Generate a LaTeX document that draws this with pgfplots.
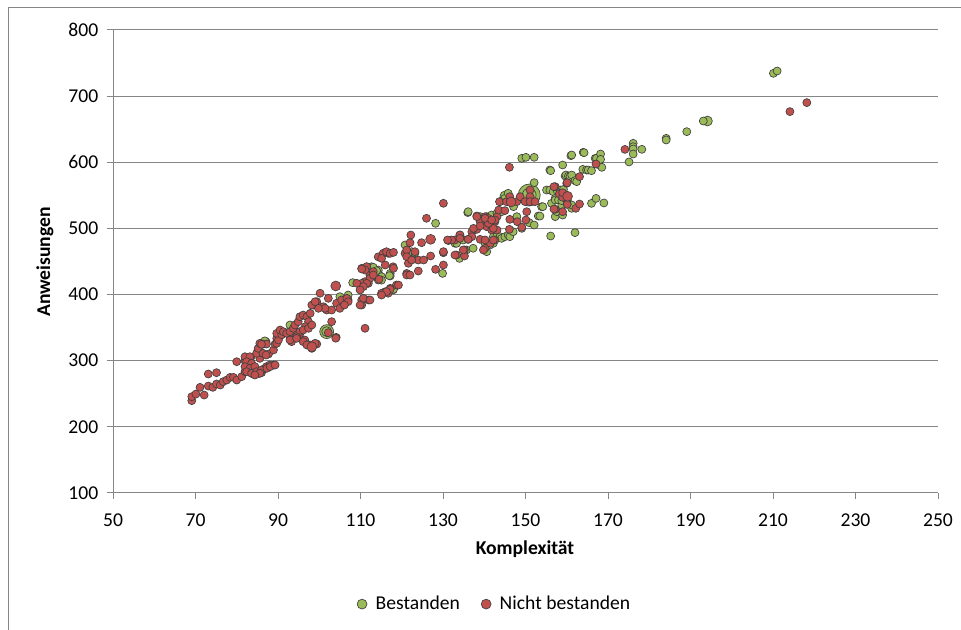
\documentclass[border=0pt]{standalone}
\usepackage{pgfplots}
\pgfplotsset{compat=1.18}
\usepackage{pgfplotstable}
\usepackage{fontspec}
\setmainfont{Carlito}
\definecolor{bgreen}{HTML}{9BBB59}
\definecolor{bred}{HTML}{C0504D}
\definecolor{gridgray}{HTML}{868686}
\definecolor{edge}{HTML}{404040}

\pgfplotstableread{
x y
87.1 328.8
86.8 330
92.9 354
97.4 354
97.6 354
105 396.8
107 399.3
108.1 418
112.7 442
114.3 437
115.1 427
117.2 432
117.9 407
115.1 421.8
113.1 441.2
117.2 428.1
113.9 436.1
114.3 422
117 428.5
118 407.9
120.8 474.9
122.4 464.8
123.2 463
128.2 507.7
129.9 432
132.9 477.5
133.3 477.5
134 454.7
134.9 482.5
135.7 467.4
136 524
136.1 525.3
137.3 470
139 517.8
140.2 477.5
140.6 464.8
140.6 517.8
141 476.5
141.4 475
141.8 520.3
142.2 477.5
142.2 487.5
143 487.5
143.1 522.8
143.8 487.5
143.8 540.5
144.2 525.3
144.2 485
145 487.5
145 545.5
145.8 553.1
145.8 490
146.2 487.5
147 495
147.1 532.9
147.9 517.8
149.1 500.1
149.1 606
150.1 607.5
150.9 508.7
152.1 607.5
152.1 569.2
152.1 505.2
153.1 518.8
153.5 518.7
153.9 532.8
154.2 532.9
155.1 558.1
155.9 588.3
155.9 558
156.1 587.3
156.1 488.5
156.3 537.9
156.7 555.6
157.2 545.5
157.2 543
157.2 517.8
157.6 525.3
157.6 558
158 543
158.4 558
158.8 535.4
158.8 542
159 595.9
159 520.2
159.2 559
159.6 579.2
159.8 580.8
160 543
160.4 579.2
160.4 537.9
160.8 578.3
161 610
161.2 611
161.2 530.4
161.2 580.7
161.2 535.4
162 572.2
162 493.6
162.4 570.7
163.9 589.3
164 615
164.2 614.5
164.8 588.3
165.2 588.3
166 587.3
166 537.9
166.9 605.9
167.1 545.4
167.2 606
167.9 595.9
168.2 612.5
168.2 604.4
168.5 592.4
169 538.5
175.1 600.5
176.1 628.7
176.1 623.6
176.1 620.1
176.1 612.5
178.2 619.6
184.1 636.2
184.1 633.7
189.1 646.3
193.1 662.4
210.1 734.5
211 738
}\greendata

\pgfplotstableread{
x y
69.1 239.6
69.1 245.6
70.1 249.6
71.1 259.7
72.1 248.1
73.1 279.9
75.1 281.9
73.1 261.7
74.2 259.7
75.1 264.8
76 263.2
76.7 268.3
77.6 270.8
78.4 274.8
79.2 274.8
80 270.8
80 298.5
81.2 275.8
82 283.4
82 300
82.8 292
83.4 305
84 279.9
84.8 279.9
85.5 280.9
86 281.9
86.4 286.9
87.2 291
88 293.5
89 293.5
85.6 303.6
86 312.1
85.2 317.2
86.4 325.2
87.2 325.2
87.7 310.1
88.9 316.2
89.3 325.2
89.7 333.8
90.5 337.3
91.3 342.4
92.9 336.3
93.3 328.8
93.7 342.4
95.3 340.4
96.5 331.3
97.4 323.7
98.2 321.2
99.4 325.2
102.2 342.4
104.1 335.3
82 306
83.2 306
82.4 298.5
83.6 296
82 291
83.2 288.5
84.4 291
82.4 283.4
83.6 281
84.8 283.4
86 286
87.3 288.5
88.1 291
89.3 293.5
85.6 281
84.4 278.4
84.8 311
85.2 318.7
85.6 326.3
86 324.8
86.4 311
87.1 308.6
89.7 326.3
90.1 331.3
89.7 341.4
90.9 339.4
90.5 346.4
91.3 343.9
92.1 341.4
92.9 343.9
93.7 349
94.1 354
94.9 359
95.3 366.5
96.1 369
97 366.5
97.4 359
96.6 351.4
95.3 343.9
94.5 336.3
92.9 331.3
94.5 333.8
96.1 346.4
97.4 349
98.2 354
97.8 323.8
99 326.3
96.1 328.8
97 323.8
98.2 318.7
98.6 384
99.4 389.2
100.2 381.6
101.8 376.6
101 381.6
103 359
104 334
111.1 349
100.2 402
102.2 394.3
104.2 386.8
105.4 391.8
107 391.8
105 379.2
103 376.6
101.4 379.2
99.8 379.2
98.2 384.2
99 389.2
97.8 371.6
110.3 439.7
111.5 442.2
112.3 429.6
111.9 417
111.1 419.5
110.3 417
109.1 417
110.3 391.8
111.9 391.8
110.3 384.2
114.3 457
115.5 462.4
116.7 462.4
117.9 442
118.7 414.4
117.2 409.4
116 404.3
115.1 402
116.7 402
121.2 432
121.6 447.3
120.8 462.4
130.1 538
126 515.3
122.2 490
122 478.4
121.2 467.4
121.2 457.2
123.2 464.8
124.8 478.4
124 452.2
122.4 452.2
121.2 429.6
122 429.6
124 435.6
127 458.3
128.2 438.1
130.1 463.3
130.1 444.7
125.3 452.2
131.3 481.7
132.9 482.5
134.1 490
135.2 467.4
135.2 458.3
133.3 459.8
136.1 483.5
138.2 518.8
139 510.2
140.2 517.7
141 515.2
141.5 507.7
142.6 510.2
143.1 517.7
143.5 527.8
140.6 502.6
141.8 497.6
143.1 497.6
137.8 498.6
137 495
139 483.5
140.2 470
141.5 477.5
142.6 482.5
143.7 540.4
116.3 464.8
117.2 462.3
118 463.8
115.1 454.7
116 444.7
118 439.7
113.1 434.6
112.3 424.6
111.1 437.1
110.3 438.6
111.5 417
110.7 412
109.9 406.9
113.1 429.6
114.5 423.1
117.2 407.9
116.3 404.3
115.1 399.3
119.2 414.4
106.7 394.3
107 389.2
110.7 394.3
112.3 391.8
106.1 384.2
109.9 384.2
157.2 563.1
158.2 552
160 568.2
159 547
160.1 536.9
157.2 528.9
159 525.3
162.2 530.4
163.1 536.9
163.1 578.3
167.1 597.4
146.1 592.4
145.4 540.5
145 526.9
146.2 548
147.9 540.5
148.7 548
149.9 540.5
151.1 558.1
151.1 548
151.1 540.5
152.3 540.5
150.3 525.3
150.1 512.7
148 510.2
149.1 501.7
146.2 513.7
146.1 498.6
142.6 512.7
142.2 500.1
141 507.7
140.2 515.2
138.2 517.8
138.2 498.6
137.4 500.1
139 503.7
137 487.5
136.1 483.5
134.1 490.1
134.1 485
132.1 482.5
131.1 482.5
130.1 464.9
132.9 459.8
134.9 467.4
140.2 482.5
139.8 467.4
142.2 482.5
141.8 512.7
174.1 619.5
160.1 569.1
156.9 563.1
159 554
156.9 529.3
160.1 536.4
214.1 676.6
218.2 690.2
}\reddata

\begin{document}
\begin{tikzpicture}[font=\fontsize{14.7}{17}\selectfont]
\useasboundingbox (0,0) rectangle (720.75pt,472.5pt);
\draw[gridgray, line width=0.75pt] (6.4pt,0) -- (6.4pt,466.9pt) -- (722pt,466.9pt);
\begin{axis}[
  at={(84.75pt,102.75pt)}, anchor=south west,
  scale only axis, width=618.75pt, height=347.25pt,
  xmin=50, xmax=250, ymin=100, ymax=800,
  xtick={50,70,...,250}, ytick={100,200,...,800},
  axis x line*=bottom, axis y line*=left,
  axis line style={gridgray, line width=0.75pt, -},
  ymajorgrids, grid style={gridgray, line width=0.75pt},
  tick align=outside, major tick length=4.5pt,
  tick style={gridgray, line width=0.75pt},
  /pgf/number format/assume math mode=true,
  xticklabel style={yshift=-7.5pt},
  yticklabel style={xshift=-3pt},
  xlabel={\textbf{Komplexität}},
  ylabel={\textbf{Anweisungen}},
  xlabel style={at={(axis description cs:0.4994,-0.121)}, anchor=center},
  ylabel style={at={(axis description cs:-0.0824,0.499)}, anchor=center},
  legend style={at={(axis description cs:0.463,-0.24)}, anchor=center, draw=none,
    legend columns=-1,
    /tikz/every odd column/.append style={column sep=4.5pt},
    /tikz/every even column/.append style={column sep=14pt}},
  legend image post style={mark size=3.7pt},
]
\addplot[only marks, mark=*, mark size=8.25pt, mark options={fill=bgreen, draw=edge, line width=0.5pt}, forget plot] coordinates {(150.9,550.5)};
\addplot[only marks, mark=*, mark size=5.2pt, mark options={fill=bgreen, draw=edge, line width=0.5pt}, forget plot] coordinates {(150.9,550.5) (101.8,344)};
\addplot[only marks, mark=*, mark size=3.7pt, mark options={fill=bgreen, draw=edge, line width=0.5pt}, forget plot] coordinates {(101.8,344) (194.1,662.4) (114.3,430) (145,549)};
\addplot[only marks, mark=*, mark size=3pt, mark options={fill=bgreen, draw=edge, line width=0.5pt}] table[x=x,y=y] {\greendata};
\addlegendentry{Bestanden}
\addplot[only marks, mark=*, mark size=3pt, mark options={fill=bred, draw=edge, line width=0.5pt}] table[x=x,y=y] {\reddata};
\addlegendentry{Nicht bestanden}
\addplot[only marks, mark=*, mark size=3.7pt, mark options={fill=bred, draw=edge, line width=0.5pt}, forget plot] coordinates {(127,483.5) (104,413) (98.2,321) (146.5,540) (160.2,548.5)};
\end{axis}
\end{tikzpicture}
\end{document}
